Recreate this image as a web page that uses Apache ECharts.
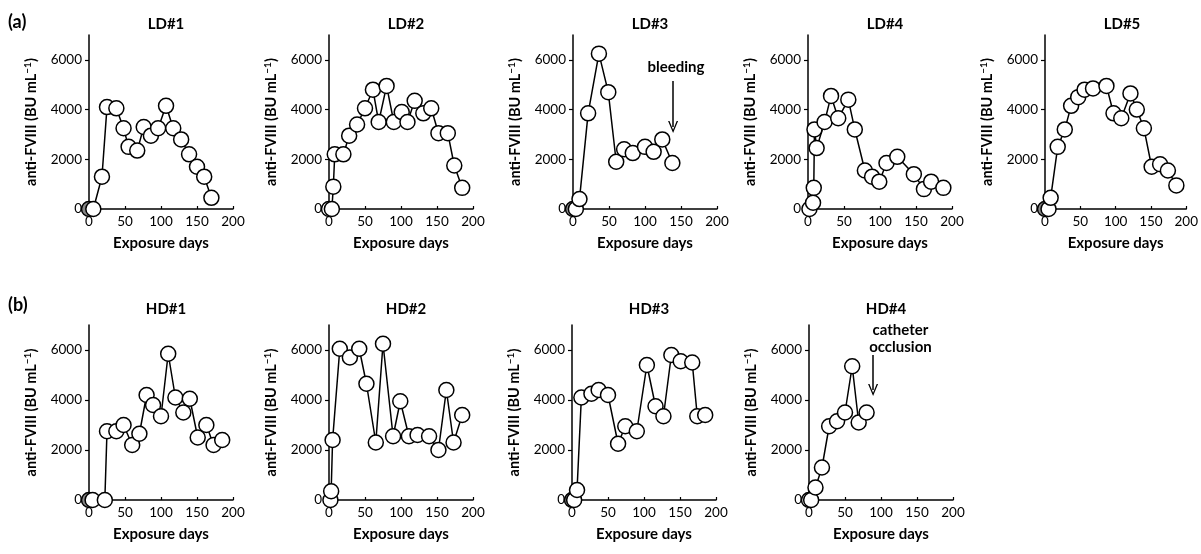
<!DOCTYPE html>
<html>
<head>
<meta charset="utf-8">
<script src="https://cdn.jsdelivr.net/npm/echarts@6/dist/echarts.min.js"></script>
<style>
  html, body { margin: 0; padding: 0; background: #fff; }
  #main { width: 1201px; height: 554px; }
</style>
</head>
<body>
<div id="main"></div>
<script>
// panel names
var panelNames = ['LD#1', 'LD#2', 'LD#3', 'LD#4', 'LD#5', 'HD#1', 'HD#2', 'HD#3', 'HD#4'];

// exposure days / titers
var ld1Days = [0, 6, 18, 25, 38, 48, 55, 67, 76, 86, 96, 107, 117, 128, 139, 150, 160, 170];
var ld1Titer = [0, 0, 1300, 4100, 4050, 3250, 2500, 2350, 3300, 2950, 3250, 4150, 3250, 2800, 2200, 1700, 1300, 450];

var ld2Days = [0, 4, 6, 8, 20, 28, 39, 50, 61, 69, 80, 90, 101, 109, 119, 131, 142, 152, 165, 174, 185];
var ld2Titer = [0, 0, 900, 2200, 2200, 2950, 3400, 4050, 4800, 3500, 4950, 3500, 3900, 3500, 4350, 3850, 4050, 3050, 3050, 1750, 850];

var ld3Days = [0, 4, 9, 21, 36, 49, 60, 71, 83, 100, 112, 124, 138];
var ld3Titer = [0, 0, 400, 3850, 6250, 4700, 1900, 2400, 2250, 2500, 2300, 2800, 1850];

var ld4Days = [2, 7, 8, 9, 12, 23, 32, 42, 56, 65, 79, 89, 99, 109, 124, 147, 161, 171, 188];
var ld4Titer = [0, 250, 850, 3200, 2450, 3500, 4550, 3650, 4400, 3200, 1550, 1300, 1100, 1850, 2100, 1400, 800, 1100, 850];

var ld5Days = [0, 5, 8, 18, 28, 37, 47, 56, 68, 87, 97, 108, 121, 130, 140, 151, 163, 174, 186];
var ld5Titer = [0, 0, 450, 2500, 3200, 4150, 4500, 4800, 4850, 4950, 3850, 3650, 4650, 4000, 3250, 1700, 1800, 1550, 950];

var hd1Days = [0, 5, 22, 25, 38, 48, 60, 70, 80, 89, 100, 110, 120, 131, 140, 151, 163, 173, 185];
var hd1Titer = [0, 0, 0, 2750, 2750, 3000, 2200, 2650, 4200, 3800, 3350, 5850, 4100, 3500, 4050, 2500, 3000, 2200, 2400];

var hd2Days = [2, 3, 5, 15, 29, 42, 52, 65, 75, 89, 99, 111, 123, 139, 152, 163, 173, 185];
var hd2Titer = [0, 350, 2400, 6050, 5700, 6050, 4650, 2300, 6250, 2550, 3950, 2550, 2600, 2550, 2000, 4400, 2300, 3400];

var hd3Days = [0, 3, 7, 13, 27, 37, 50, 64, 74, 90, 104, 116, 127, 138, 151, 167, 174, 185];
var hd3Titer = [0, 0, 400, 4100, 4250, 4400, 4200, 2250, 2950, 2750, 5400, 3750, 3350, 5800, 5550, 5500, 3350, 3400];

var hd4Days = [0, 3, 9, 18, 28, 39, 50, 60, 69, 80];
var hd4Titer = [0, 0, 500, 1300, 2950, 3150, 3500, 5350, 3100, 3500];

// panels where the first point is drawn grey
var greyFirst = [true, false, true, false, true, true, false, true, false];

var yTicks = [0, 2000, 4000, 6000];

// annotations: [day, value]
var bleedingText = [143, 5700];
var bleedingArrow = [[139, 5150], [139, 3300]];
var catheterText = [127, 6450];
var catheterArrow = [[89, 5800], [89, 4400]];

var allDays = [ld1Days, ld2Days, ld3Days, ld4Days, ld5Days, hd1Days, hd2Days, hd3Days, hd4Days];
var allTiter = [ld1Titer, ld2Titer, ld3Titer, ld4Titer, ld5Titer, hd1Titer, hd2Titer, hd3Titer, hd4Titer];

var FONT = 'Lato, "Liberation Sans", sans-serif';
var chevron = 'path://M5,0 L10,11 L8.6,11 L5,3 L1.4,11 L0,11 Z';

var gridLefts = [89, 329, 573, 808, 1045, 89, 329, 572, 809];

var grids = [], xAxes = [], yAxes = [], series = [], titles = [];

titles.push({ text: '(a)', left: 3, top: 8, textStyle: { fontFamily: FONT, fontSize: 18, fontWeight: 'bold', color: '#000' } });
titles.push({ text: '(b)', left: 3, top: 291, textStyle: { fontFamily: FONT, fontSize: 18, fontWeight: 'bold', color: '#000' } });

for (var i = 0; i < 9; i++) {
    var topRow = i < 5;
    grids.push({
        left: gridLefts[i],
        top: topRow ? 35 : 325,
        width: 144,
        height: topRow ? 174 : 175
    });
    titles.push({
        text: panelNames[i],
        left: gridLefts[i] + 72,
        top: topRow ? 12 : 297,
        textAlign: 'center',
        textStyle: { fontFamily: FONT, fontSize: 15, fontWeight: 'bold', color: '#000' }
    });
    xAxes.push({
        gridIndex: i,
        type: 'value',
        min: 0,
        max: 200,
        interval: 50,
        name: 'Exposure days',
        nameLocation: 'middle',
        nameGap: 27,
        nameTextStyle: { fontFamily: FONT, fontSize: 15, fontWeight: 'bold', color: '#000' },
        axisLine: { lineStyle: { color: '#000', width: 1.5 } },
        axisTick: { inside: true, length: 3, lineStyle: { color: '#000', width: 1.2 } },
        axisLabel: { fontFamily: FONT, fontSize: 13.5, color: '#000', margin: 6 },
        splitLine: { show: false }
    });
    yAxes.push({
        gridIndex: i,
        type: 'value',
        min: 0,
        max: 7000,
        interval: 1000,
        name: 'anti-FVIII (BU mL{sup|\u22121})',
        nameLocation: 'middle',
        nameGap: 50,
        nameTextStyle: {
            fontFamily: FONT, fontSize: 14.5, fontWeight: 'bold', color: '#000',
            rich: { sup: { fontFamily: FONT, fontSize: 10, fontWeight: 'bold', color: '#000', verticalAlign: 'top', padding: [0, 0, 6, 0] } }
        },
        axisLine: { lineStyle: { color: '#000', width: 1.5 } },
        axisTick: { length: 4, customValues: yTicks, lineStyle: { color: '#000', width: 1.2 } },
        axisLabel: {
            fontFamily: FONT, fontSize: 13.5, color: '#000', margin: 7, customValues: yTicks,
            formatter: function (v) { return String(v); }
        },
        splitLine: { show: false }
    });

    var pts = [];
    for (var k = 0; k < allDays[i].length; k++) {
        var p = { value: [allDays[i][k], allTiter[i][k]] };
        if (k === 0 && greyFirst[i]) {
            p.itemStyle = { color: '#888' };
        }
        pts.push(p);
    }
    series.push({
        type: 'line',
        xAxisIndex: i,
        yAxisIndex: i,
        data: pts,
        symbol: 'circle',
        symbolSize: 15,
        z: 3,
        lineStyle: { color: '#000', width: 1.5 },
        itemStyle: { color: '#fff', borderColor: '#000', borderWidth: 1.5 }
    });
}

function annotation(idx, textPos, text, arrow) {
    return {
        type: 'scatter',
        xAxisIndex: idx,
        yAxisIndex: idx,
        symbolSize: 0,
        silent: true,
        itemStyle: { color: '#000', opacity: 1 },
        data: [textPos],
        label: {
            show: true,
            position: 'inside',
            formatter: text,
            fontFamily: FONT,
            fontSize: 15,
            fontWeight: 'bold',
            color: '#000',
            textBorderWidth: 0,
            lineHeight: 17
        },
        markLine: {
            silent: true,
            symbol: ['none', chevron],
            symbolSize: [10, 12],
            label: { show: false },
            lineStyle: { color: '#000', width: 1.5, type: 'solid', opacity: 1 },
            data: [[{ coord: arrow[0] }, { coord: arrow[1] }]]
        }
    };
}

series.push(annotation(2, bleedingText, 'bleeding', bleedingArrow));
series.push(annotation(8, catheterText, 'catheter\nocclusion', catheterArrow));

var chart = echarts.init(document.getElementById('main'), null, { renderer: 'canvas' });
chart.setOption({
    animation: false,
    backgroundColor: '#fff',
    title: titles,
    grid: grids,
    xAxis: xAxes,
    yAxis: yAxes,
    series: series
});
</script>
</body>
</html>
